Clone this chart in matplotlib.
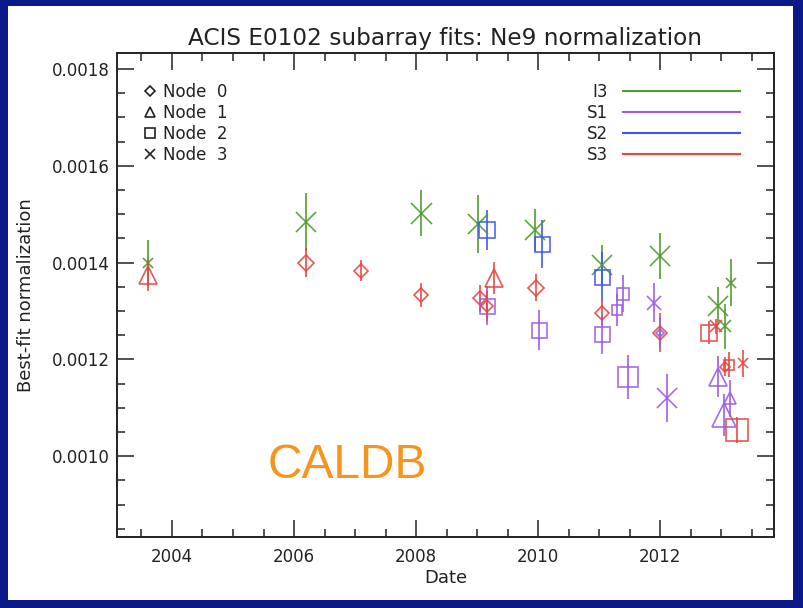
import numpy as np
import matplotlib
matplotlib.use("Agg")
import matplotlib.pyplot as plt
from matplotlib.lines import Line2D
from matplotlib.patches import Rectangle
from matplotlib.ticker import MultipleLocator, FormatStrFormatter

# ── Data ──────────────────────────────────────────────────────────────────────
date = [2003.60, 2003.60, 2006.19, 2006.19, 2007.09, 2008.08, 2008.08,
        2009.02, 2009.16, 2009.04, 2009.16, 2009.16, 2009.27,
        2009.95, 2010.06, 2009.97, 2010.01,
        2011.05, 2011.05, 2011.05, 2011.05, 2011.29, 2011.39, 2011.47,
        2012.00, 2011.90, 2011.99, 2011.99, 2012.11,
        2012.94, 2013.15, 2013.05, 2012.79, 2012.91, 2013.05, 2013.13,
        2013.35, 2012.94, 2013.04, 2013.14, 2013.25]
norm = [0.001399, 0.001375, 0.001483, 0.001400, 0.0013835, 0.001502, 0.001333,
        0.0014795, 0.0014677, 0.0013264, 0.0013111, 0.001311, 0.0013678,
        0.0014677, 0.0014387, 0.0013484, 0.0012609,
        0.0013953, 0.001371, 0.0012954, 0.001252, 0.0013022, 0.0013353, 0.0011631,
        0.0014139, 0.0013174, 0.0012553, 0.0012553, 0.0011196,
        0.0013105, 0.0013587, 0.001268, 0.0012553, 0.001268, 0.001185, 0.0011889,
        0.001192, 0.0011643, 0.0010851, 0.0011196, 0.001054]
err = [0.000047, 0.000033, 0.000060, 0.000030, 0.000022, 0.000048, 0.000024,
       0.000060, 0.000041, 0.000028, 0.000041, 0.000031, 0.000033,
       0.000043, 0.000050, 0.000028, 0.000041,
       0.000040, 0.000050, 0.000025, 0.000040, 0.000033, 0.000038, 0.000045,
       0.000048, 0.000040, 0.000040, 0.000030, 0.000050,
       0.000040, 0.000048, 0.000047, 0.000024, 0.000015, 0.000020, 0.000026,
       0.000028, 0.000043, 0.000043, 0.000038, 0.000027]
chip = ["I3", "S3", "I3", "S3", "S3", "I3", "S3",
        "I3", "S2", "S3", "S1", "S3", "S3",
        "I3", "S2", "S3", "S1",
        "I3", "S2", "S3", "S1", "S1", "S1", "S1",
        "I3", "S1", "S3", "S1", "S1",
        "I3", "I3", "I3", "S3", "S3", "S3", "S3",
        "S3", "S1", "S1", "S1", "S3"]
node = [3, 1, 3, 0, 0, 3, 0,
        3, 2, 0, 2, 0, 1,
        3, 2, 0, 2,
        3, 2, 0, 2, 2, 2, 2,
        3, 3, 0, 0, 3,
        3, 3, 3, 2, 3, 0, 2,
        3, 1, 1, 1, 2]
# relative symbol size (IDL symsize) of each point
symsize = [1.0, 1.6, 2.0, 1.6, 1.4, 2.1, 1.4,
           2.0, 1.6, 1.4, 1.5, 1.2, 1.5,
           2.0, 1.5, 1.5, 1.5,
           2.0, 1.5, 1.4, 1.5, 1.0, 1.2, 2.0,
           2.0, 1.4, 1.4, 0.8, 2.0,
           2.0, 1.0, 1.2, 1.6, 1.2, 1.0, 1.0,
           1.0, 1.5, 2.0, 1.0, 2.2]

CHIPS = ["I3", "S1", "S2", "S3"]
NODES = [0, 1, 2, 3]

# ── Styles ────────────────────────────────────────────────────────────────────
COLORS  = {"I3": "#4f9b2c", "S1": "#9a5ce6", "S2": "#3f55ef", "S3": "#e8463f"}
MARKERS = {0: "D", 1: "^", 2: "s", 3: "x"}
# marker size (pt) for symsize 1 -> ~10 px wide glyph
BASE = {0: 10 * 0.72 / 1.414, 1: 10 * 0.72 / 0.866, 2: 10 * 0.72, 3: 10 * 0.72}
NAVY = "#0a1888"
INK  = "#222222"

plt.rcParams["font.family"] = ["DejaVu Sans"]

fig = plt.figure(figsize=(8.04, 6.08), dpi=100)
fig.patch.set_facecolor(NAVY)
fig.patches.append(Rectangle((8 / 804, 1 - 600 / 608), 785 / 804, 594 / 608,
                             transform=fig.transFigure, facecolor="white",
                             edgecolor="none", zorder=-10))

ax = fig.add_axes([117 / 804, 1 - 537 / 608, 657 / 804, 484 / 608])
ax.set_facecolor("white")

for d, v, e, c, n, s in zip(date, norm, err, chip, node, symsize):
    col = COLORS[c]
    ax.plot([d, d], [v - e, v + e], color=col, lw=1.3, solid_capstyle="butt",
            alpha=0.9, zorder=2)
    ax.plot([d], [v], linestyle="none", marker=MARKERS[n],
            markersize=BASE[n] * s, markerfacecolor="none",
            markeredgecolor=col, markeredgewidth=1.2, alpha=0.9, zorder=3)

ax.set_xlim(2003.1, 2013.86)
ax.set_ylim(0.000833, 0.001833)
ax.xaxis.set_major_locator(MultipleLocator(2))
ax.xaxis.set_minor_locator(MultipleLocator(0.5))
ax.yaxis.set_major_locator(MultipleLocator(0.0002))
ax.yaxis.set_minor_locator(MultipleLocator(0.00005))
ax.yaxis.set_major_formatter(FormatStrFormatter("%.4f"))
ax.tick_params(which="both", direction="in", top=True, right=True,
               color=INK, labelcolor=INK, labelsize=12)
ax.tick_params(which="major", length=12, width=1.1, pad=5)
ax.tick_params(which="minor", length=6, width=1.1)
ax.tick_params(axis="x", which="major", pad=8)
for sp in ax.spines.values():
    sp.set_color(INK)
    sp.set_linewidth(1.4)

ax.set_title("ACIS E0102 subarray fits: Ne9 normalization",
             fontsize=16.7, color=INK, pad=6)
ax.set_xlabel("Date", fontsize=13, color=INK, labelpad=2)
ax.set_ylabel("Best-fit normalization", fontsize=13, color=INK, labelpad=12)

# node legend (symbols)
node_handles = [Line2D([], [], linestyle="none", marker=MARKERS[n],
                       markersize=BASE[n] * 0.95, markerfacecolor="none",
                       markeredgecolor=INK, markeredgewidth=1.2)
                for n in NODES]
leg1 = ax.legend(node_handles, [f"Node  {n}" for n in NODES],
                 loc="upper left", bbox_to_anchor=(0.027, 0.955),
                 frameon=False, fontsize=12, handlelength=0.8,
                 handletextpad=0.4, labelspacing=0.18, borderpad=0,
                 labelcolor=INK)
ax.add_artist(leg1)

# chip legend (colours)
chip_handles = [Line2D([], [], color=COLORS[c], lw=1.5) for c in CHIPS]
ax.legend(chip_handles, CHIPS, loc="upper right",
          bbox_to_anchor=(0.9605, 0.955), frameon=False, fontsize=12,
          markerfirst=False, handlelength=7.0, handletextpad=0.9,
          labelspacing=0.18, borderpad=0, labelcolor=INK)

ax.text(0.23, 0.148, "CALDB", transform=ax.transAxes, fontsize=34.5,
        color="#f7941d", family=["Liberation Sans", "DejaVu Sans"],
        ha="left", va="center")

fig.savefig("out.png", dpi=100, facecolor=NAVY)
